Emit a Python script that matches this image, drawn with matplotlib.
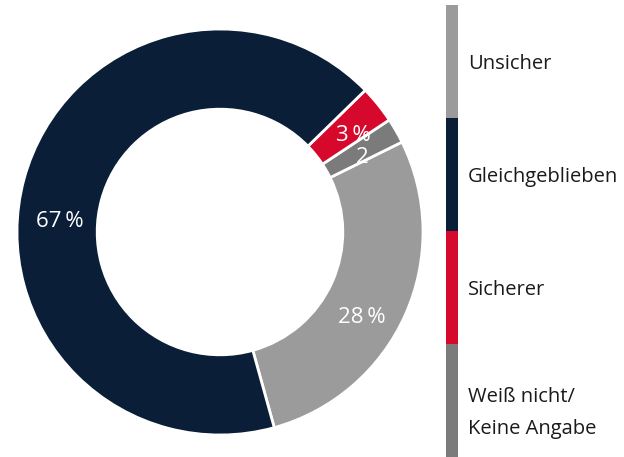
import matplotlib
matplotlib.use("Agg")
import matplotlib.pyplot as plt

plt.rcParams['font.family'] = ['Open Sans', 'DejaVu Sans']

# Werte (ab unten rechts gegen den Uhrzeigersinn: Unsicher, Weiß nicht, Sicherer, Gleichgeblieben)
labels = ["Unsicher", "Weiß nicht/\nKeine Angabe", "Sicherer", "Gleichgeblieben"]
values = [28, 2, 3, 67]
colors = ["#9b9b9b", "#7b7b7c", "#d6082b", "#0a1e38"]
value_texts = ["28\u2009%", "2", "3\u2009%", "67\u2009%"]

legend_labels = ["Unsicher", "Gleichgeblieben", "Sicherer", "Weiß nicht/\nKeine Angabe"]
legend_colors = ["#9b9b9b", "#0a1e38", "#d6082b", "#7b7b7c"]

W, H = 624, 457
fig = plt.figure(figsize=(W / 100, H / 100), dpi=100)

# Donut
cx, cy, r = 220, 232, 203
ax = fig.add_axes([(cx - r) / W, (H - cy - r) / H, 2 * r / W, 2 * r / H])
ax.pie(values, colors=colors, startangle=-74.5, counterclock=True,
       wedgeprops=dict(width=0.395, edgecolor="white", linewidth=2))
ax.set_xlim(-1, 1)
ax.set_ylim(-1, 1)
ax.set_aspect("equal")
ax.axis("off")

# Beschriftungen in den Segmenten
label_pos = [(0.70, -0.42), (0.70, 0.365), (0.655, 0.475), (-0.79, 0.05)]
for (x, y), t in zip(label_pos, value_texts):
    ax.text(x, y, t, color="white", fontsize=16, ha="center", va="center")

# Legende als senkrechter Balken
lax = fig.add_axes([446 / W, 0, 12 / W, (H - 5) / H])
bottom = 0
for c in reversed(legend_colors):
    lax.bar(0, 1, bottom=bottom, color=c, width=1)
    bottom += 1
lax.set_xlim(-0.5, 0.5)
lax.set_ylim(0, 4)
lax.axis("off")

text_y = [64, 177, 290, 413]
for lab, y in zip(legend_labels, text_y):
    fig.text(468 / W, 1 - y / H, lab, fontsize=14.5, color="#1a1a1a",
             ha="left", va="center", linespacing=1.85)

fig.savefig("out.png", dpi=100)
